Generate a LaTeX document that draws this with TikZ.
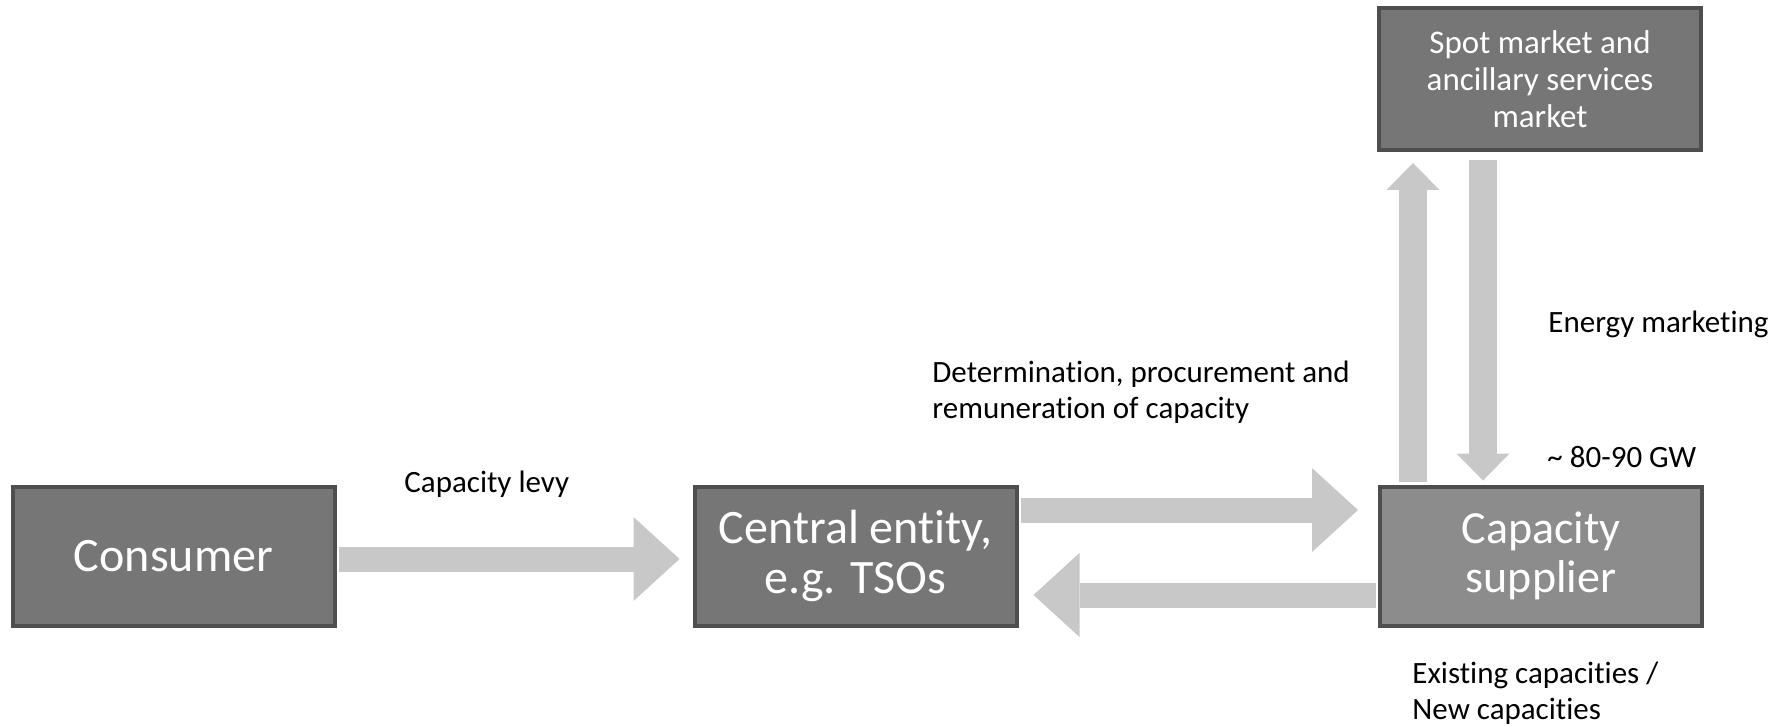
\documentclass[tikz,border=0pt]{standalone}
\usepackage{fontspec}
\setmainfont{Carlito}[Ligatures=NoCommon]
\usetikzlibrary{arrows.meta}
\definecolor{boxgray}{HTML}{767676}
\definecolor{boxlight}{HTML}{8C8C8C}
\definecolor{boxedge}{HTML}{4E4E4E}
\definecolor{arrowgray}{HTML}{C8C8C8}
\begin{document}
\begin{tikzpicture}[x=0.5pt,y=-0.5pt,
  entity/.style={draw=boxedge, line width=2pt, fill=boxgray, text=white,
    align=center, font=\fontsize{24}{25}\selectfont,
    minimum width=161pt, minimum height=69.5pt, inner sep=0pt},
  note/.style={anchor=base west, align=left, inner sep=0pt,
    font=\fontsize{15.5}{18}\selectfont},
  harrow/.style={draw=arrowgray, line width=12.5pt,
    -{Triangle[length=23pt,width=42pt,line width=0pt]}},
  varrow/.style={draw=arrowgray, line width=14pt,
    -{Triangle[length=13.5pt,width=26.5pt,line width=0pt]}}]
\useasboundingbox (0,0) rectangle (1781,727);

% boxes
\node[entity] (consumer) at (173.5,556) {Consumer};
\node[entity] (central) at (855.5,556) {Central entity,\\e.g. TSOs};
\node[entity, fill=boxlight, font=\fontsize{23}{24.5}\selectfont]
  (supplier) at (1541,556) {Capacity\\supplier};
\node[entity, font=\fontsize{16.5}{18.5}\selectfont, minimum height=71pt]
  (spot) at (1540,79) {Spot market and\\ancillary services\\market};

% block arrows
\draw[harrow, shorten <=1pt, shorten >=6.5pt]
  ([yshift=-1.5pt]consumer.east) -- ([yshift=-1.5pt]central.west);
\draw[harrow, shorten <=1pt, shorten >=10pt]
  ([yshift=23pt]central.east) -- ([yshift=23pt]supplier.west);
\draw[harrow, shorten <=1pt, shorten >=7.5pt]
  ([yshift=-19.5pt]supplier.west) -- ([yshift=-19.5pt]central.east);
\draw[varrow, shorten <=1.5pt, shorten >=5.5pt]
  ([xshift=-64pt]supplier.north) -- ([xshift=-63.5pt]spot.south);
\draw[varrow, shorten <=4pt, shorten >=2pt]
  ([xshift=-28.5pt]spot.south) -- ([xshift=-29pt]supplier.north);

% labels (multi-line ones are placed by their last baseline)
\node[note] (levy) at (404,492) {Capacity levy};
\node[note] (determ) at (932,418) {Determination, procurement and\\remuneration of capacity};
\node[note] (energy) at (1548,332) {Energy marketing};
\node[note] (gw) at (1547,467) {\textasciitilde{} 80-90 GW};
\node[note] (exist) at (1412,719) {Existing capacities /\\New capacities};
\end{tikzpicture}
\end{document}
